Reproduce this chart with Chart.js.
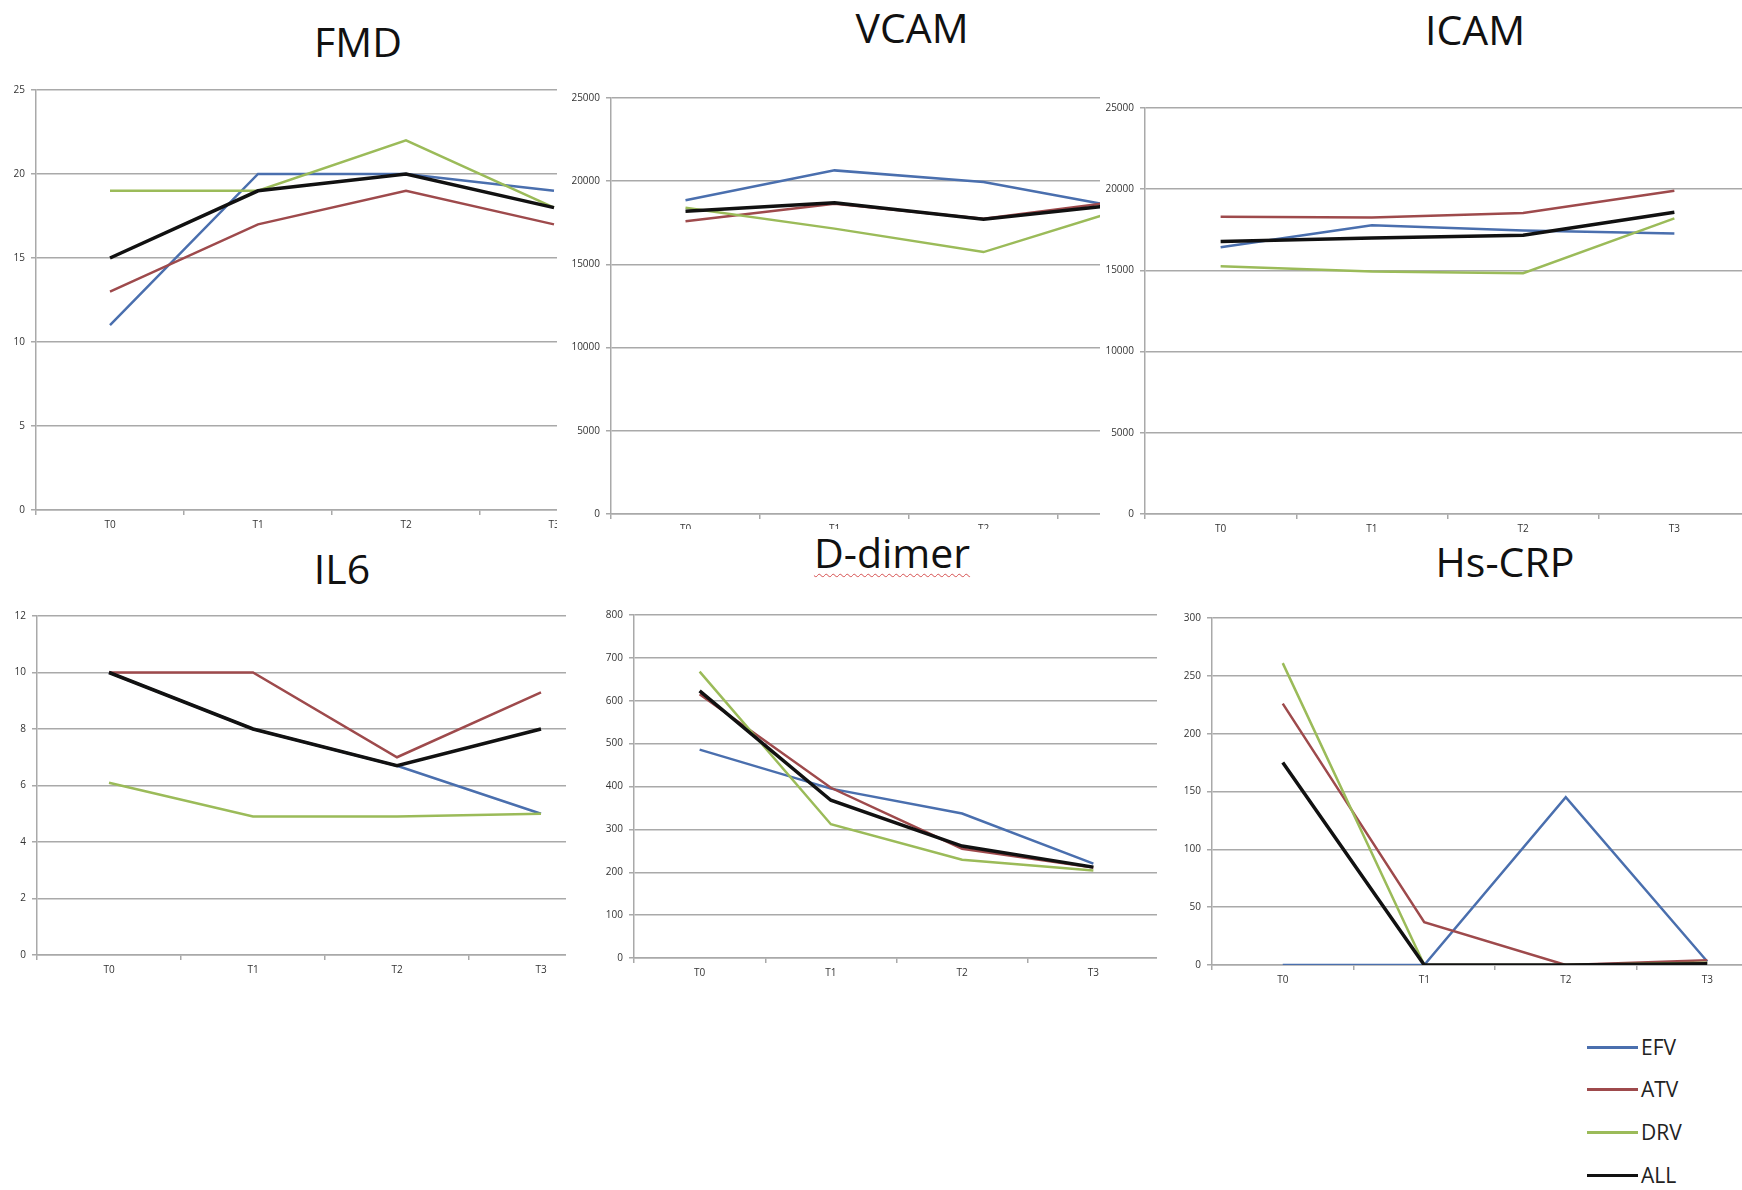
<!DOCTYPE html>
<html>
<head>
<meta charset="utf-8">
<script src="https://cdn.jsdelivr.net/npm/chart.js@4.4.1/dist/chart.umd.min.js"></script>
<style>
    html, body {
        margin: 0;
        padding: 0;
        background: #fff;
    }
    body {
        position: relative;
        width: 1742px;
        height: 1190px;
        overflow: hidden;
        font-family: "Open Sans", "Noto Sans", sans-serif;
    }
    .panel {
        position: absolute;
        overflow: hidden;
        background: #fff;
    }
    .panel canvas {
        position: absolute;
    }
    .title {
        position: absolute;
        transform: translate(-50%, -50%);
        font-size: 41px;
        line-height: 1;
        color: #111;
        white-space: nowrap;
    }
    .title.spell {
        text-decoration: underline wavy #d65050;
        text-decoration-thickness: 1px;
        text-underline-offset: 5px;
    }
    #legend {
        position: absolute;
        left: 1587px;
        top: 1025px;
        z-index: 10;
    }
    .legend-item {
        position: absolute;
        left: 0;
        height: 30px;
        display: flex;
        align-items: center;
        font-size: 21px;
        color: #222;
        white-space: nowrap;
    }
    .legend-item .swatch {
        width: 51px;
        height: 3px;
        margin-right: 3px;
    }
</style>
</head>
<body>
<div id="legend"></div>

<script>
// categories and series
const timepoints = ['T0', 'T1', 'T2', 'T3'];
const groups = ['EFV', 'ATV', 'DRV', 'ALL'];

// values per chart, one row per group (EFV, ATV, DRV, ALL)
const fmdValues = [
    [11, 20, 20, 19],
    [13, 17, 19, 17],
    [19, 19, 22, 18],
    [15, 19, 20, 18]
];
const vcamValues = [
    [18850, 20650, 19950, 18300],
    [17590, 18650, 17750, 18880],
    [18400, 17150, 15740, 18510],
    [18200, 18700, 17710, 18670]
];
const icamValues = [
    [16420, 17780, 17460, 17270],
    [18310, 18250, 18540, 19900],
    [15250, 14930, 14830, 18200],
    [16780, 16990, 17160, 18580]
];
const il6Values = [
    [10, 8, 6.7, 5],
    [10, 10, 7, 9.3],
    [6.1, 4.9, 4.9, 5],
    [10, 8, 6.7, 8]
];
const ddimerValues = [
    [486, 395, 337, 220],
    [615, 397, 255, 211],
    [668, 312, 229, 204],
    [623, 368, 261, 212]
];
const crpValues = [
    [0, 0, 145, 3],
    [226, 37, 0, 4],
    [261, 0, 0, 2],
    [175, 0, 0, 1]
];

// y tick labels
const fmdTicks = [0, 5, 10, 15, 20, 25];
const vcamTicks = [0, 5000, 10000, 15000, 20000, 25000];
const icamTicks = [0, 5000, 10000, 15000, 20000, 25000];
const il6Ticks = [0, 2, 4, 6, 8, 10, 12];
const ddimerTicks = [0, 100, 200, 300, 400, 500, 600, 700, 800];
const crpTicks = [0, 50, 100, 150, 200, 250, 300];

// styling
const groupColors = ['#4a6fae', '#9e4a4c', '#9bbb59', '#111111'];
const groupWidths = [2.5, 2.5, 2.5, 3.5];
const gridColor = '#a9a9a9';
const tickColor = '#333';

// layout: panel box clips the chart, canvas may run past it
const panels = [
    { title: 'FMD', values: fmdValues, ticks: fmdTicks,
      box: [0, 0, 557, 535], canvas: [6, 78, 622, 456], yWidth: 30, titleAt: [358, 41] },
    { title: 'VCAM', values: vcamValues, ticks: vcamTicks,
      box: [557, 0, 543, 529], canvas: [566, 86, 641, 452], yWidth: 45, titleAt: [912, 27] },
    { title: 'ICAM', values: icamValues, ticks: icamTicks,
      box: [1100, 0, 642, 534], canvas: [1101, 96, 649, 442], yWidth: 44, titleAt: [1475, 29] },
    { title: 'IL6', values: il6Values, ticks: il6Ticks,
      box: [0, 535, 566, 655], canvas: [7, 604, 606, 375], yWidth: 30, titleAt: [342, 568] },
    { title: 'D-dimer', values: ddimerValues, ticks: ddimerTicks, spell: true,
      box: [566, 529, 591, 661], canvas: [600, 603, 559, 379], yWidth: 34, titleAt: [892, 552] },
    { title: 'Hs-CRP', values: crpValues, ticks: crpTicks,
      box: [1157, 534, 585, 656], canvas: [1178, 606, 600, 383], yWidth: 34, titleAt: [1505, 561] }
];

document.addEventListener('DOMContentLoaded', () => {
    panels.forEach(buildPanel);
    buildLegend();
});

function buildPanel(p) {
    const [bx, by, bw, bh] = p.box;
    const panel = document.createElement('div');
    panel.className = 'panel';
    panel.style.left = bx + 'px';
    panel.style.top = by + 'px';
    panel.style.width = bw + 'px';
    panel.style.height = bh + 'px';
    document.body.appendChild(panel);

    const title = document.createElement('div');
    title.className = 'title' + (p.spell ? ' spell' : '');
    title.textContent = p.title;
    title.style.left = (p.titleAt[0] - bx) + 'px';
    title.style.top = (p.titleAt[1] - by) + 'px';
    panel.appendChild(title);

    const [cx, cy, cw, ch] = p.canvas;
    const canvas = document.createElement('canvas');
    canvas.width = cw;
    canvas.height = ch;
    canvas.style.left = (cx - bx) + 'px';
    canvas.style.top = (cy - by) + 'px';
    canvas.style.width = cw + 'px';
    canvas.style.height = ch + 'px';
    panel.appendChild(canvas);

    new Chart(canvas.getContext('2d'), {
        type: 'line',
        data: {
            labels: timepoints,
            datasets: groups.map((name, i) => ({
                label: name,
                data: p.values[i],
                borderColor: groupColors[i],
                borderWidth: groupWidths[i],
                pointRadius: 0,
                tension: 0,
                fill: false,
                order: groups.length - i
            }))
        },
        options: {
            responsive: false,
            animation: false,
            layout: { padding: { top: 12, left: 0, right: 0, bottom: 0 } },
            scales: {
                x: {
                    offset: true,
                    grid: {
                        offset: true,
                        drawOnChartArea: false,
                        drawTicks: true,
                        tickLength: 5,
                        color: gridColor,
                        lineWidth: 1.5
                    },
                    border: { color: gridColor, width: 1.5 },
                    ticks: {
                        padding: 4,
                        color: tickColor,
                        font: { family: 'Open Sans', size: 10 }
                    },
                    afterFit: scale => { scale.height = 24; }
                },
                y: {
                    min: p.ticks[0],
                    max: p.ticks[p.ticks.length - 1],
                    afterBuildTicks: axis => {
                        axis.ticks = p.ticks.map(v => ({ value: v }));
                    },
                    grid: {
                        color: gridColor,
                        lineWidth: 1.5,
                        drawTicks: true,
                        tickLength: 5
                    },
                    border: { color: gridColor, width: 1.5 },
                    ticks: {
                        padding: 6,
                        color: tickColor,
                        font: { family: 'Open Sans', size: 10 },
                        callback: v => String(v)
                    },
                    afterFit: scale => { scale.width = p.yWidth; }
                }
            },
            plugins: {
                legend: { display: false },
                tooltip: { enabled: false }
            }
        }
    });
}

function buildLegend() {
    const legend = document.getElementById('legend');
    const rowCenters = [1047, 1089, 1132, 1175];
    groups.forEach((name, i) => {
        const item = document.createElement('div');
        item.className = 'legend-item';
        item.style.top = (rowCenters[i] - 1025 - 15) + 'px';
        item.innerHTML = `<span class="swatch" style="background:${groupColors[i]}"></span>${name}`;
        legend.appendChild(item);
    });
}
</script>
</body>
</html>
